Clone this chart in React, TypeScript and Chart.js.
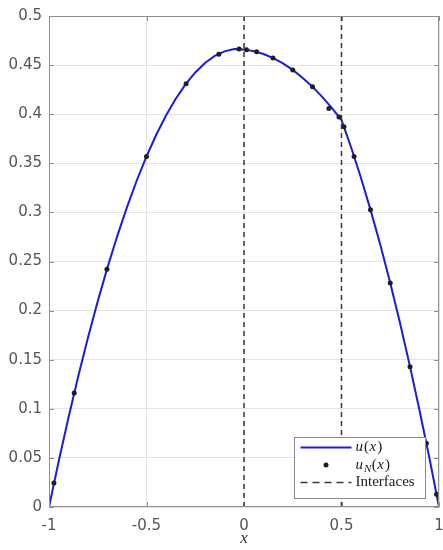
import React, { useEffect, useRef } from "react";
import { Chart, registerables } from "chart.js";

Chart.register(...registerables);

// Exact solution u(x), sampled along the curve
const curveX = [
  -1, -0.95, -0.9, -0.85, -0.8, -0.75, -0.7, -0.65, -0.6, -0.55, -0.5,
  -0.45, -0.4, -0.35, -0.3, -0.25, -0.2, -0.15, -0.1, -0.05, 0,
  0.05, 0.1, 0.15, 0.2, 0.25, 0.3, 0.35, 0.4, 0.45, 0.5,
  0.55, 0.6, 0.65, 0.7, 0.75, 0.8, 0.85, 0.9, 0.95, 1,
];
const curveU = [
  0, 0.0469, 0.0912, 0.1331, 0.1726, 0.2095, 0.244, 0.2759, 0.3054, 0.3325, 0.357,
  0.3791, 0.3986, 0.4157, 0.4304, 0.4425, 0.4522, 0.4593, 0.464, 0.4663, 0.466,
  0.4642, 0.4613, 0.4571, 0.4517, 0.4451, 0.4372, 0.4282, 0.4179, 0.4064, 0.394,
  0.3658, 0.335, 0.3018, 0.2662, 0.228, 0.1874, 0.1442, 0.0986, 0.0506, 0,
];

// Numerical solution u_N(x) at nodes
const nodeX = [
  -0.9746, -0.8708, -0.7029, -0.5, -0.2971, -0.1292, -0.0254,
  0.0127, 0.0646, 0.1486, 0.25, 0.3514, 0.4354, 0.4873,
  0.5127, 0.5646, 0.6486, 0.75, 0.8514, 0.9354, 0.9873,
];
const nodeU = [
  0.0245, 0.116, 0.242, 0.357, 0.431, 0.461, 0.4665,
  0.4657, 0.4635, 0.4572, 0.4451, 0.4279, 0.4059, 0.3972,
  0.3871, 0.357, 0.3026, 0.228, 0.1428, 0.065, 0.0129,
];

// Element interfaces
const interfaceX = [0, 0.5];
const interfaceRange = [0, 0.5];

const xRange = [-1, 1];
const xStep = 0.5;
const yRange = [0, 0.5];
const yStep = 0.05;
const xTitle = "x";
const legendLabels = ["u(x)", "u_N(x)", "Interfaces"];

const AXIS = "#8f8f8f";
const BLUE = "#1c1cdc";
const MARK = "#1e1e1e";
const DASH = "#3a3a3a";
const TICK_TEXT = "#555";

const fmt = (v: any) => String(Number(Number(v).toFixed(4)));

type Part = { t: string; it: boolean; sub: boolean };
function parseMath(s: string): Part[] {
  const parts: Part[] = [];
  for (let i = 0; i < s.length; i++) {
    const c = s[i];
    if (c === "_" && i + 1 < s.length) {
      parts.push({ t: s[i + 1], it: true, sub: true });
      i++;
    } else {
      parts.push({ t: c, it: /[a-zA-Z]/.test(c), sub: false });
    }
  }
  return parts;
}

function drawLabel(ctx: CanvasRenderingContext2D, label: string, x: number, y: number) {
  const isMath = label.includes("(");
  ctx.fillStyle = "#222";
  ctx.textBaseline = "middle";
  ctx.textAlign = "left";
  if (!isMath) {
    ctx.font = "15px 'Liberation Serif', serif";
    ctx.fillText(label, x, y);
    return;
  }
  let cx = x;
  for (const p of parseMath(label)) {
    const size = p.sub ? 11 : 15;
    ctx.font = `${p.it ? "italic " : ""}${size}px 'Liberation Serif', serif`;
    ctx.fillText(p.t, cx, p.sub ? y + 4 : y);
    cx += ctx.measureText(p.t).width + (p.it && !p.sub ? 1 : 0.5);
  }
}

const framePlugin = {
  id: "frame",
  beforeDatasetsDraw(chart: any) {
    const { ctx, chartArea: a, scales } = chart;
    const sx = scales.x;
    const sy = scales.y;
    ctx.save();
    ctx.strokeStyle = AXIS;
    ctx.lineWidth = 1;
    ctx.beginPath();
    const L = 5;
    sx.ticks.forEach((t: any) => {
      const px = Math.round(sx.getPixelForValue(t.value)) + 0.5;
      ctx.moveTo(px, a.bottom);
      ctx.lineTo(px, a.bottom - L);
      ctx.moveTo(px, a.top);
      ctx.lineTo(px, a.top + L);
    });
    sy.ticks.forEach((t: any) => {
      const py = Math.round(sy.getPixelForValue(t.value)) + 0.5;
      ctx.moveTo(a.left, py);
      ctx.lineTo(a.left + L, py);
      ctx.moveTo(a.right, py);
      ctx.lineTo(a.right - L, py);
    });
    ctx.stroke();
    ctx.restore();
  },
  afterDatasetsDraw(chart: any) {
    const { ctx, chartArea: a } = chart;
    ctx.save();
    ctx.strokeStyle = AXIS;
    ctx.lineWidth = 1;
    ctx.strokeRect(Math.round(a.left) + 0.5, Math.round(a.top) + 0.5,
      Math.round(a.right - a.left) - 1, Math.round(a.bottom - a.top) - 1);
    ctx.restore();
  },
  afterDraw(chart: any) {
    const { ctx, chartArea: a } = chart;
    const bw = 131, bh = 61;
    const bx = a.right - 145 + 0.5;
    const by = a.bottom - 70 + 0.5;
    ctx.save();
    ctx.fillStyle = "#fff";
    ctx.fillRect(bx, by, bw, bh);
    ctx.strokeStyle = "#8a8a8a";
    ctx.lineWidth = 1;
    ctx.strokeRect(bx, by, bw, bh);
    const rows = [by + 10, by + 27.5, by + 45];
    const sx0 = bx + 6, sx1 = bx + 57;
    ctx.strokeStyle = BLUE;
    ctx.lineWidth = 2;
    ctx.beginPath();
    ctx.moveTo(sx0, rows[0]);
    ctx.lineTo(sx1, rows[0]);
    ctx.stroke();
    ctx.fillStyle = MARK;
    ctx.beginPath();
    ctx.arc((sx0 + sx1) / 2, rows[1], 2.5, 0, Math.PI * 2);
    ctx.fill();
    ctx.strokeStyle = DASH;
    ctx.lineWidth = 1.5;
    ctx.setLineDash([7, 5]);
    ctx.beginPath();
    ctx.moveTo(sx0, rows[2]);
    ctx.lineTo(sx1, rows[2]);
    ctx.stroke();
    ctx.setLineDash([]);
    legendLabels.forEach((lab, i) => drawLabel(ctx, lab, bx + 61, rows[i]));
    ctx.restore();
  },
};

export default function App() {
  const ref = useRef<HTMLCanvasElement | null>(null);

  useEffect(() => {
    if (!ref.current) return;
    const datasets: any[] = [
      {
        label: legendLabels[0],
        data: curveX.map((x, i) => ({ x, y: curveU[i] })),
        showLine: true,
        borderColor: BLUE,
        borderWidth: 2,
        pointRadius: 0,
        tension: 0,
        order: 2,
      },
      {
        label: legendLabels[1],
        data: nodeX.map((x, i) => ({ x, y: nodeU[i] })),
        showLine: false,
        pointRadius: 2.5,
        pointBackgroundColor: MARK,
        pointBorderColor: MARK,
        pointBorderWidth: 0,
        order: 1,
      },
      ...interfaceX.map((xi) => ({
        label: legendLabels[2],
        data: interfaceRange.map((y) => ({ x: xi, y })),
        showLine: true,
        borderColor: DASH,
        borderWidth: 1.5,
        borderDash: [5, 4],
        pointRadius: 0,
        order: 0,
      })),
    ];

    const chart = new Chart(ref.current, {
      type: "scatter",
      data: { datasets },
      plugins: [framePlugin],
      options: {
        responsive: false,
        animation: false,
        layout: { padding: { top: 16, right: 2, left: 0, bottom: 0 } },
        plugins: { legend: { display: false }, tooltip: { enabled: false } },
        scales: {
          x: {
            type: "linear",
            min: xRange[0],
            max: xRange[1],
            ticks: {
              stepSize: xStep,
              padding: 10,
              color: TICK_TEXT,
              callback: fmt,
              font: { family: "'DejaVu Sans', sans-serif", size: 15 },
            },
            grid: { color: "#e4e4e4", drawTicks: false, tickLength: 0 },
            border: { display: false },
            title: {
              display: true,
              text: xTitle,
              color: "#333",
              font: { family: "'Liberation Serif', serif", size: 17, style: "italic" },
              padding: { top: 0, bottom: 1 },
            },
            afterFit: (s: any) => {
              s.height = 43;
              s.paddingLeft = 0;
              s.paddingRight = 0;
            },
          },
          y: {
            type: "linear",
            min: yRange[0],
            max: yRange[1],
            ticks: {
              stepSize: yStep,
              padding: 7,
              color: TICK_TEXT,
              callback: fmt,
              font: { family: "'DejaVu Sans', sans-serif", size: 15 },
            },
            grid: { color: "#e4e4e4", drawTicks: false, tickLength: 0 },
            border: { display: false },
            afterFit: (s: any) => {
              s.width = 49;
              s.paddingTop = 0;
              s.paddingBottom = 0;
            },
          },
        },
      },
    });
    return () => chart.destroy();
  }, []);

  return (
    <div style={{ position: "absolute", left: 0, top: 0, width: 443, height: 550, background: "#fff" }}>
      <canvas ref={ref} width={443} height={550} style={{ display: "block", width: 443, height: 550 }} />
    </div>
  );
}
